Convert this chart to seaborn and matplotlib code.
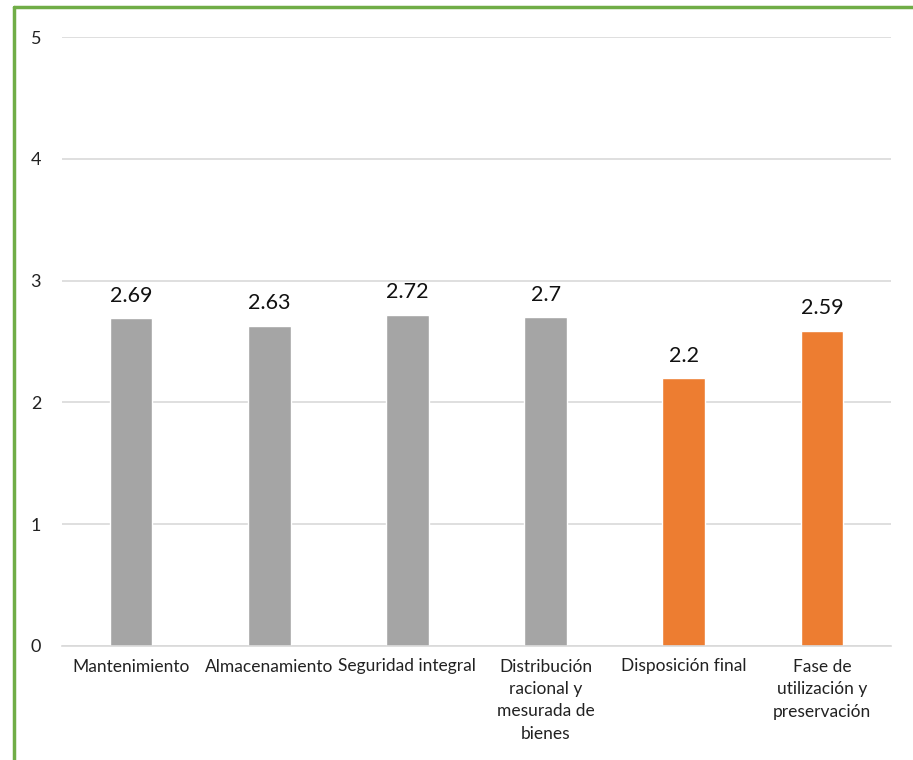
import matplotlib
matplotlib.use("Agg")
import matplotlib.pyplot as plt
import seaborn as sns
import pandas as pd
from matplotlib.lines import Line2D

categories = ["Mantenimiento", "Almacenamiento", "Seguridad integral",
              "Distribución\nracional y\nmesurada de\nbienes", "Disposición final",
              "Fase de\nutilización y\npreservación"]
values = [2.69, 2.63, 2.72, 2.7, 2.2, 2.59]
labels = ["2.69", "2.63", "2.72", "2.7", "2.2", "2.59"]
colors = ["#A5A5A5", "#A5A5A5", "#A5A5A5", "#A5A5A5", "#ED7D31", "#ED7D31"]
yticks = [0, 1, 2, 3, 4, 5]

sns.set_theme(style="white")
plt.rcParams['font.family'] = ['Lato', 'DejaVu Sans']

df = pd.DataFrame({"cat": categories, "val": values})
fig = plt.figure(figsize=(9.13, 7.6), dpi=100)
ax = fig.add_axes([62/913, 1 - 646/760, (891-62)/913, (646-37)/760])
sns.barplot(data=df, x="cat", y="val", hue="cat", palette=colors, legend=False,
            width=0.31, ax=ax, saturation=1)
ax.set_ylim(0, 5)
ax.set_xlim(-0.5, 5.5)
ax.set_yticks(yticks)
ax.set_yticklabels([str(t) for t in yticks], fontsize=13, color="#222222")
ax.tick_params(axis='y', length=0, pad=15)
ax.tick_params(axis='x', length=0, pad=9, labelsize=12.5, labelcolor="#222222")
ax.set_xlabel("")
ax.set_ylabel("")
ax.grid(axis='y', color="#D9D9D9", linewidth=1.2)
ax.set_axisbelow(True)
for s in ["top", "right", "left"]:
    ax.spines[s].set_visible(False)
ax.spines["bottom"].set_color("#D9D9D9")
ax.spines["bottom"].set_linewidth(1.2)
for lbl in ax.get_xticklabels():
    lbl.set_verticalalignment("top")
    lbl.set_linespacing(1.5)
for i, (v, t) in enumerate(zip(values, labels)):
    ax.annotate(t, (i, v), xytext=(0, 9), textcoords="offset points",
                ha="center", va="bottom", fontsize=15.5, color="#111111")

fig.add_artist(Line2D([14/913, 14/913], [0, 1 - 7/760], color="#70AD47", linewidth=2.5,
                      transform=fig.transFigure))
fig.add_artist(Line2D([14/913, 1], [1 - 7/760, 1 - 7/760], color="#70AD47", linewidth=2.5,
                      transform=fig.transFigure))
fig.savefig("out.png", dpi=100, facecolor="white")
